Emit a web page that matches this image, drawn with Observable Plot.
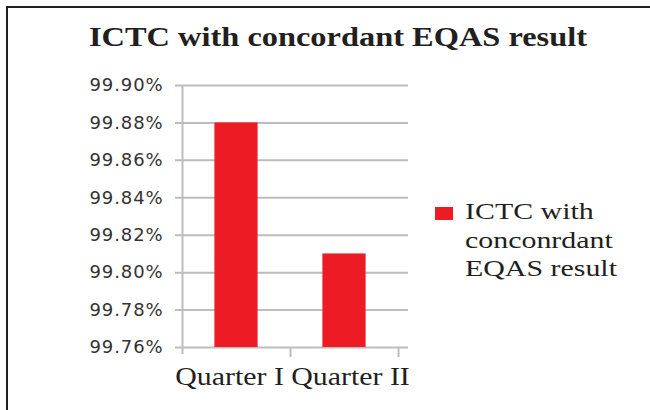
<!DOCTYPE html>
<html><head><meta charset="utf-8">
<script src="https://cdn.jsdelivr.net/npm/d3@7"></script>
<script src="https://cdn.jsdelivr.net/npm/@observablehq/plot@0.6"></script>
<style>
html,body{margin:0;padding:0;background:#fff;}
#chart{position:relative;width:650px;height:410px;overflow:hidden;background:#fff;}
#bt{position:absolute;left:6px;top:6px;width:644px;height:2px;background:#231f20;}
#bl{position:absolute;left:6px;top:6px;width:2px;height:404px;background:#231f20;}
#title{position:absolute;left:0;top:24px;width:676px;text-align:center;font-family:"Liberation Serif",serif;font-weight:bold;font-size:27px;line-height:26px;color:#231f20;transform:scaleX(1.2);transform-origin:338px 0;white-space:nowrap;}
#plot{position:absolute;left:0;top:70px;}
#legend{position:absolute;left:435px;top:198px;}
#swatch{position:absolute;left:0;top:9px;width:18px;height:13px;background:#ed1c24;}
#ltext{position:absolute;left:30px;top:0;width:125px;font-family:"Liberation Serif",serif;font-size:23px;line-height:28.5px;color:#231f20;transform:scaleX(1.3);transform-origin:0 0;}
</style>
</head><body>
<div id="chart">
  <div id="bt"></div><div id="bl"></div>
  <div id="title"></div>
  <div id="plot"></div>
  <div id="legend"><div id="swatch"></div><div id="ltext"></div></div>
</div>
<script>
const titleText = "ICTC with concordant EQAS result";
const seriesName = "ICTC with conconrdant EQAS result";
const quarters = ["Quarter I", "Quarter II"];
const values = [99.88, 99.81];
const yTicks = [99.76, 99.78, 99.80, 99.82, 99.84, 99.86, 99.88, 99.90];

const data = quarters.map((q, i) => ({quarter: q, value: values[i]}));
const W = 420, H = 340, mL = 182, mR = 22, mT = 15, mB = 63;
const step = (W - mL - mR) / quarters.length;
const yMin = yTicks[0], yMax = yTicks[yTicks.length - 1];
const grid = "#bdbdbd";
const red = "#ed1c24";

document.getElementById("title").textContent = titleText;
document.getElementById("ltext").textContent = seriesName;
document.getElementById("swatch").style.background = red;

const plot = Plot.plot({
  width: W, height: H,
  marginLeft: mL, marginRight: mR, marginTop: mT, marginBottom: mB,
  style: {background: "transparent", overflow: "visible"},
  x: {domain: quarters, paddingInner: 0.6, paddingOuter: 0.3, round: false, label: null, axis: null},
  y: {domain: [yMin, yMax], label: null, axis: null},
  marks: [
    Plot.ruleY(yTicks, {stroke: grid, strokeWidth: 2, insetLeft: -7, insetRight: -10}),
    Plot.barY(data, {x: "quarter", y1: yMin, y2: "value", fill: red}),
    Plot.ruleX([quarters[0]], {dx: -step / 2, y1: yMax, y2: yMin, insetBottom: -7, stroke: grid, strokeWidth: 2}),
    Plot.ruleX(quarters, {dx: step / 2, y1: yMin, y2: yMin, insetBottom: -10, stroke: grid, strokeWidth: 2}),
    Plot.axisY({ticks: yTicks, tickSize: 0, tickPadding: 19, tickFormat: d => d.toFixed(2) + "%",
      fontSize: 18, fontFamily: "DejaVu Sans", color: "#333", label: null}),
    Plot.text(data, {filter: (d, i) => i === 0, x: "quarter", y: yMin, text: "quarter", dx: -7, dy: 37, lineAnchor: "bottom",
      fontSize: 26, fontFamily: "Liberation Serif", fill: "#231f20"}),
    Plot.text(data, {filter: (d, i) => i === 1, x: "quarter", y: yMin, text: "quarter", dx: 6, dy: 37, lineAnchor: "bottom",
      fontSize: 26, fontFamily: "Liberation Serif", fill: "#231f20"})
  ]
});
document.getElementById("plot").appendChild(plot);

plot.querySelectorAll('g[aria-label="y-axis tick label"]').forEach(g => { g.style.letterSpacing = "0.9px"; });
plot.querySelectorAll('g[aria-label="text"] text').forEach(el => {
  const t = el.getAttribute("transform");
  if (t) el.setAttribute("transform", `${t} scale(1.15,1)`);
});
</script>
</body></html>
